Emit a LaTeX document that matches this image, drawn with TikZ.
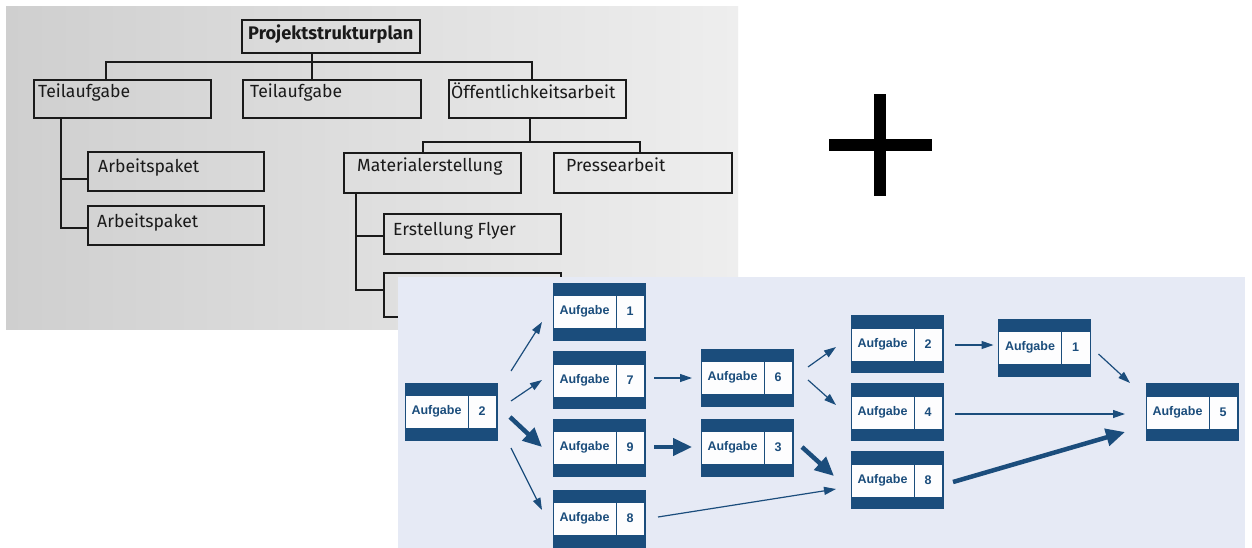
\documentclass[tikz,border=0pt]{standalone}
\usepackage{fontspec}
\setmainfont{Fira Sans}
\newfontfamily\netfont{Liberation Sans}
\usetikzlibrary{arrows.meta,calc}
\definecolor{nb}{HTML}{1B4D7C}
\definecolor{netbg}{HTML}{E6EAF5}
\definecolor{treeline}{HTML}{1A1A1A}
\definecolor{grayL}{HTML}{CFCFCF}
\definecolor{grayR}{HTML}{EEEEEE}
\begin{document}
\begin{tikzpicture}[x=1pt,y=-1pt,
  tbox/.style={draw=treeline, line width=2.2pt, rectangle, inner sep=0pt, outer sep=0pt, anchor=north west},
  ttext/.style={anchor=base west, inner sep=0pt, text=treeline, font=\fontsize{17.6}{20}\selectfont},
  tline/.style={draw=treeline, line width=2.2pt},
  netbox/.style={rectangle, minimum width=92pt, minimum height=57pt, inner sep=0pt, outer sep=0pt,
    fill=nb, draw=nb, line width=0.8pt,
    path picture={
      \fill[white!92!netbg] ([xshift=0.8pt,yshift=-13pt]path picture bounding box.north west)
        rectangle ([xshift=-0.8pt,yshift=12pt]path picture bounding box.south east);
      \draw[nb, line width=0.8pt] ([xshift=63pt]path picture bounding box.north west)
        -- ([xshift=63pt]path picture bounding box.south west);
    }},
  nt/.style={inner sep=0pt, text=nb, font=\netfont\bfseries\fontsize{12.5}{14}\selectfont},
  thinarr/.style={draw=nb, line width=1.2pt, -{Triangle[length=12pt,width=8pt]}},
  thickarr/.style={draw=nb, line width=4.5pt, -{Triangle[length=19pt,width=17pt]}}
]
\useasboundingbox (0,0) rectangle (1252,548);
\fill[white] (0,0) rectangle (1252,548);

% ---------- tree panel ----------
\shade[left color=grayL, right color=grayR] (6,7) rectangle (738,329);

\node[tbox, minimum width=178pt, minimum height=33pt] (root) at (242,20) {};
\node[ttext, font=\bfseries\fontsize{18.2}{20}\selectfont] at ($(root.north west)+(6,20)$) {Projektstrukturplan};

\node[tbox, minimum width=177pt, minimum height=38pt] (t1) at (34,80) {};
\node[ttext] at ($(t1.north west)+(4,18)$) {Teilaufgabe};
\node[tbox, minimum width=178pt, minimum height=38pt] (t2) at (243,80) {};
\node[ttext] at ($(t2.north west)+(7,18)$) {Teilaufgabe};
\node[tbox, minimum width=177pt, minimum height=38pt] (oe) at (449,80) {};
\node[ttext] at ($(oe.north west)+(2,19)$) {Öffentlichkeitsarbeit};

\node[tbox, minimum width=176pt, minimum height=39pt] (ap1) at (88,152) {};
\node[ttext] at ($(ap1.north west)+(10,21)$) {Arbeitspaket};
\node[tbox, minimum width=176pt, minimum height=39pt] (ap2) at (88,206) {};
\node[ttext] at ($(ap2.north west)+(9,21)$) {Arbeitspaket};

\node[tbox, minimum width=177pt, minimum height=40pt] (mat) at (344,153) {};
\node[ttext] at ($(mat.north west)+(13,19)$) {Materialerstellung};
\node[tbox, minimum width=178pt, minimum height=40pt] (press) at (554,153) {};
\node[ttext] at ($(press.north west)+(12,19)$) {Pressearbeit};

\node[tbox, minimum width=177pt, minimum height=40pt] (flyer) at (384,214) {};
\node[ttext] at ($(flyer.north west)+(9,21)$) {Erstellung Flyer};
\node[tbox, minimum width=177pt, minimum height=44pt] (hid) at (384,273) {};

% tree connectors
\draw[tline] ($(root.south)+(-19,0)$) coordinate (rj) -- (rj |- t2.north);
\draw[tline] ($(t1.north west)+(72,0)$) |- ($(oe.north west)+(83,-18)$) -- ($(oe.north west)+(83,0)$);
\draw[tline] ($(t1.south west)+(27,0)$) |- ($(ap2.south west)+(0,-17)$);
\draw[tline] ($(ap1.south west)+(-27,-12)$) -- ($(ap1.south west)+(0,-12)$);
\draw[tline] ($(oe.south west)+(81,0)$) -- ++(0,24);
\draw[tline] ($(mat.north west)+(79,0)$) |- ($(press.north west)+(86,-11)$) -- ($(press.north west)+(86,0)$);
\draw[tline] ($(mat.south west)+(12,0)$) |- ($(hid.north west)+(0,17)$);
\draw[tline] ($(flyer.north west)+(-28,22)$) -- ($(flyer.north west)+(0,22)$);

% ---------- plus ----------
\fill[black] (874,94) rectangle (886,196);
\fill[black] (829,139) rectangle (932,151);

% ---------- network panel ----------
\fill[netbg] (398,277) rectangle (1245,548);

\node[netbox] (a2l) at (451,411.5) {};
\node[netbox] (a1a) at (599,311.5) {};
\node[netbox] (a7) at (599,380) {};
\node[netbox] (a9) at (599,447.5) {};
\node[netbox] (a8a) at (599,518.5) {};
\node[netbox] (a6) at (747,377.5) {};
\node[netbox] (a3) at (747,447.5) {};
\node[netbox] (a2b) at (897,344) {};
\node[netbox] (a4) at (897,412) {};
\node[netbox] (a8b) at (897,480) {};
\node[netbox] (a1b) at (1044.5,347.5) {};
\node[netbox] (a5) at (1192,412) {};

\foreach \n/\v in {a2l/2,a1a/1,a7/7,a9/9,a8a/8,a6/6,a3/3,a2b/2,a4/4,a8b/8,a1b/1,a5/5}{
  \node[nt] at ([xshift=31.5pt]\n.west) {Aufgabe};
  \node[nt] at ([xshift=-15pt]\n.east) {\v};
}

% arrows
\draw[thinarr] ($(a2l.east)+(14,-40.5)$) -- ($(a1a.west)+(-11,10.5)$);
\draw[thinarr] ($(a2l.east)+(14,-10.5)$) -- ($(a7.west)+(-11,0)$);
\draw[thickarr] ($(a2l.east)+(13,5.5)$) -- ($(a9.west)+(-11,-0.5)$);
\draw[thinarr] ($(a2l.east)+(14,36.5)$) -- ($(a8a.west)+(-11,-8.5)$);
\draw[thinarr] ($(a7.east)+(9,-2)$) -- ($(a6.west)+(-9,0.5)$);
\draw[thickarr] ($(a9.east)+(9,-0.5)$) -- ($(a3.west)+(-9,-0.5)$);
\draw[thinarr] ($(a6.east)+(15,-10.5)$) -- ($(a2b.west)+(-15,3)$);
\draw[thinarr] ($(a6.east)+(15,2.5)$) -- ($(a4.west)+(-15,-7)$);
\draw[thickarr] ($(a3.east)+(9,-0.5)$) -- ($(a8b.west)+(-17,-4)$);
\draw[thinarr] ($(a8a.east)+(13,-1.5)$) -- ($(a8b.west)+(-15,9)$);
\draw[thinarr] ($(a2b.east)+(12,1)$) -- ($(a1b.west)+(-5,-2.5)$);
\draw[thinarr] ($(a1b.east)+(8,6.5)$) -- ($(a5.west)+(-16,-29)$);
\draw[thinarr] ($(a4.east)+(12,2)$) -- ($(a5.west)+(-21,2)$);
\draw[thickarr] ($(a8b.east)+(10,2)$) -- ($(a5.west)+(-21,20)$);
\end{tikzpicture}
\end{document}
